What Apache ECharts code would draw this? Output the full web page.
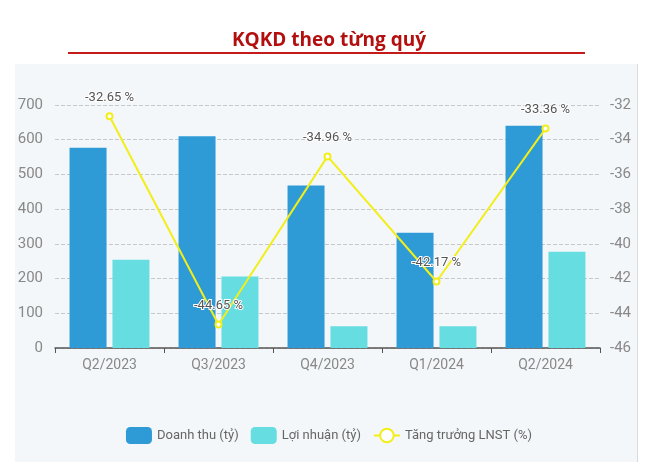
<!DOCTYPE html>
<html>
<head>
<meta charset="utf-8">
<script src="https://cdn.jsdelivr.net/npm/echarts@6/dist/echarts.min.js"></script>
<style>html,body{margin:0;padding:0;background:#fff;}#c{width:658px;height:473px;}</style>
</head>
<body>
<div id="c"></div>
<script>
var categories = ['Q2/2023', 'Q3/2023', 'Q4/2023', 'Q1/2024', 'Q2/2024'];
var doanhThu = [577, 610, 468, 332, 640];
var loiNhuan = [254, 206, 63, 63, 277];
var tangTruong = [-32.65, -44.65, -34.96, -42.17, -33.36];
var leftTicks = { min: 0, max: 700, interval: 100 };
var rightTicks = { min: -46, max: -32, interval: 2 };

var narrow = '"Liberation Sans Narrow", "Roboto", sans-serif';
var chart = echarts.init(document.getElementById('c'), null, { renderer: 'canvas' });
chart.setOption({
  backgroundColor: '#ffffff',
  animation: false,
  title: {
    text: 'KQKD theo từng quý',
    left: 'center', top: 26,
    textStyle: { fontFamily: '"Open Sans", sans-serif', fontWeight: 'bold', fontSize: 19, color: '#b30f0f' }
  },
  graphic: [
    { type: 'rect', z: -10, shape: { x: 15, y: 64, width: 623, height: 398 }, style: { fill: '#f4f7fa' } },
    { type: 'line', z: -9, shape: { x1: 637.5, y1: 64, x2: 637.5, y2: 462 }, style: { stroke: '#d8dbe0', lineWidth: 1 } },
    { type: 'line', shape: { x1: 68, y1: 53, x2: 585, y2: 53 }, style: { stroke: '#c41a1a', lineWidth: 2 } }
  ],
  grid: { left: 55, right: 58, top: 105, bottom: 125 },
  legend: {
    bottom: 24, left: 'center',
    itemWidth: 26, itemHeight: 17, itemGap: 12,
    textStyle: { fontFamily: narrow, fontSize: 13, color: '#666' },
    data: [
      { name: 'Doanh thu (tỷ)', icon: 'roundRect' },
      { name: 'Lợi nhuận (tỷ)', icon: 'roundRect' },
      { name: 'Tăng trưởng LNST (%)' }
    ]
  },
  xAxis: {
    type: 'category', data: categories,
    axisLine: { lineStyle: { color: '#555', width: 1.5 } },
    axisTick: { show: true, lineStyle: { color: '#555' } },
    axisLabel: { fontFamily: narrow, fontSize: 14, color: '#888', margin: 10 }
  },
  yAxis: [
    {
      type: 'value', min: leftTicks.min, max: leftTicks.max, interval: leftTicks.interval,
      axisLabel: { fontFamily: narrow, fontSize: 15, color: '#888', margin: 12 },
      axisLine: { show: false }, axisTick: { show: false },
      splitLine: { lineStyle: { type: 'dashed', color: '#c8c8c8' } }
    },
    {
      type: 'value', min: rightTicks.min, max: rightTicks.max, interval: rightTicks.interval,
      axisLabel: { fontFamily: narrow, fontSize: 15, color: '#888', margin: 10 },
      axisLine: { show: false }, axisTick: { show: false },
      splitLine: { show: false }
    }
  ],
  series: [
    {
      name: 'Doanh thu (tỷ)', type: 'bar', data: doanhThu, barWidth: 37, barGap: '16%',
      itemStyle: { color: '#2f9bd6' }
    },
    {
      name: 'Lợi nhuận (tỷ)', type: 'bar', data: loiNhuan, barWidth: 37,
      itemStyle: { color: '#66dde0' }
    },
    {
      name: 'Tăng trưởng LNST (%)', type: 'line', yAxisIndex: 1, data: tangTruong, z: 5,
      symbol: 'emptyCircle', symbolSize: 6,
      lineStyle: { color: '#f2ee1a', width: 2 },
      itemStyle: { color: '#f2ee1a', borderWidth: 2 },
      label: {
        show: true, position: 'top', distance: 8,
        formatter: function (p) { return p.value.toFixed(2) + ' %'; },
        fontFamily: narrow, fontSize: 13, color: '#555',
        textBorderColor: '#ffffff', textBorderWidth: 2
      }
    }
  ]
});
</script>
</body>
</html>
